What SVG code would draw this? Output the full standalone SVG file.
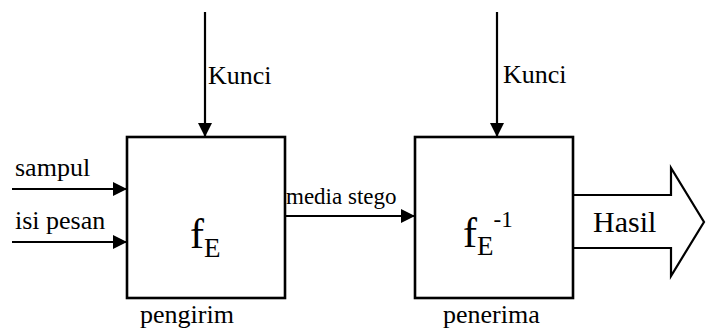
<svg xmlns="http://www.w3.org/2000/svg" width="711" height="332" viewBox="0 0 711 332">
<style>
text{font-family:'Liberation Serif','Times New Roman',serif;fill:#000}
.lbl{font-size:26px}
.ln{stroke:#000;stroke-width:2.2;fill:none}
.box{stroke:#000;stroke-width:2.6;fill:#fff}
.fn{font-size:42px}
.sub{font-size:27px}
.sup{font-size:23px}
</style>
<defs>
<marker id="ah" viewBox="0 0 14 14" refX="14" refY="7" markerWidth="14" markerHeight="14" markerUnits="userSpaceOnUse" orient="auto">
<path d="M0,0 L14,7 L0,14 Z" fill="#000"/>
</marker>
</defs>
<g id="connectors">
<line class="ln" x1="205" y1="12" x2="205" y2="137" marker-end="url(#ah)"/>
<line class="ln" x1="497" y1="12" x2="497" y2="137" marker-end="url(#ah)"/>
<line class="ln" x1="12" y1="189" x2="127" y2="189" marker-end="url(#ah)"/>
<line class="ln" x1="12" y1="242" x2="127" y2="242" marker-end="url(#ah)"/>
<line class="ln" x1="285" y1="216" x2="415" y2="216" marker-end="url(#ah)"/>
<path id="hasil-arrow" class="ln" d="M573,195 L671,195 L671,168 L704,222 L671,276 L671,248 L573,248"/>
<text class="lbl" x="208" y="84">Kunci</text>
<text class="lbl" x="503" y="83">Kunci</text>
<text class="lbl" x="15" y="176">sampul</text>
<text class="lbl" x="15" y="229">isi pesan</text>
<text x="286" y="204" style="font-size:23px">media stego</text>
<text x="593" y="232" style="font-size:30px">Hasil</text>
</g>
<g id="pengirim">
<rect class="box" x="127" y="137" width="158" height="161"/>
<text class="fn" x="190" y="248">f<tspan class="sub" dy="9">E</tspan></text>
<text class="lbl" x="140" y="323">pengirim</text>
</g>
<g id="penerima">
<rect class="box" x="415" y="137" width="158" height="161"/>
<text class="fn" x="463" y="247">f<tspan class="sub" dy="8">E</tspan><tspan class="sup" dy="-28">-1</tspan></text>
<text class="lbl" x="443" y="323">penerima</text>
</g>
</svg>
